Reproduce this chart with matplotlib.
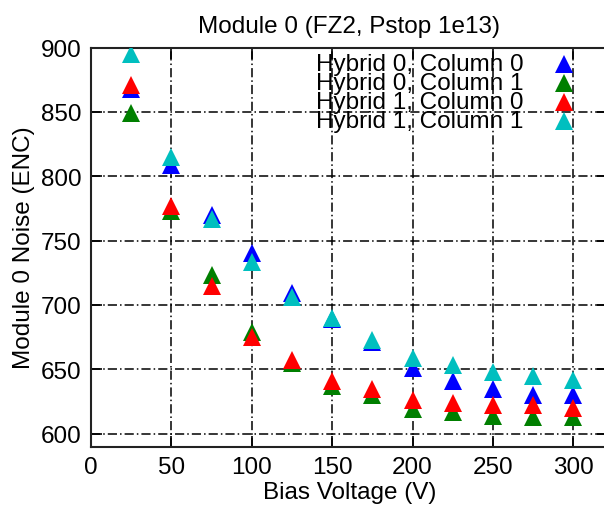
import matplotlib
matplotlib.use("Agg")
import matplotlib.pyplot as plt

plt.rcParams['font.family'] = ['Liberation Sans', 'DejaVu Sans']

# bias voltage points (V)
voltage = [25, 50, 75, 100, 125, 150, 175, 200, 225, 250, 275, 300]

# noise (ENC) per hybrid / column
h0_c0 = [868, 809, 770, 740, 709, 689, 671, 651, 641, 635, 630, 630]
h0_c1 = [849, 773, 723, 679, 655, 637, 630, 619, 617, 614, 613, 613]
h1_c0 = [871, 777, 715, 675, 657, 641, 635, 626, 624, 622, 622, 620]
h1_c1 = [895, 815, 767, 733, 706, 690, 673, 659, 653, 648, 645, 642]

labels = ["Hybrid 0, Column 0", "Hybrid 0, Column 1",
          "Hybrid 1, Column 0", "Hybrid 1, Column 1"]
series = [h0_c0, h0_c1, h1_c0, h1_c1]
colors = ["#0000ff", "#007f00", "#ff0000", "#00bfbf"]

fs = 17.5

fig = plt.figure(figsize=(6.04, 5.10), dpi=100)
W, H = 604, 510
ax = fig.add_axes([91 / W, 1 - 447.5 / H, 517 / W, 399 / H])

for vals, c in zip(series, colors):
    ax.plot(voltage, vals, linestyle='none', marker='^', markersize=13,
            color=c, markeredgewidth=0, zorder=3)

ax.set_xlim(0, 321.5)
ax.set_ylim(590, 900)
ax.set_xticks(range(0, 301, 50))
ax.set_yticks(range(600, 901, 50))

ax.grid(True, color='black', linestyle=(0, (6, 2, 1, 2)), linewidth=1.1)
ax.set_axisbelow(True)
ax.tick_params(direction='in', length=8, width=1.2, top=True, right=True,
               labelsize=fs, pad=7, colors='black')
for s in ax.spines.values():
    s.set_linewidth(1.5)
    s.set_color('#222222')

ax.set_title("Module 0 (FZ2, Pstop 1e13)", fontsize=fs, pad=11)
ax.set_xlabel("Bias Voltage (V)", fontsize=fs, labelpad=2)
ax.set_ylabel("Module 0 Noise (ENC)", fontsize=fs, labelpad=4)

# gnuplot-style key: right-aligned text, marker to the right
key_y = [0.959, 0.911, 0.864, 0.816]
for lab, c, yk in zip(labels, colors, key_y):
    ax.text(0.836, yk, lab, transform=ax.transAxes, ha='right', va='center',
            fontsize=fs, zorder=5)
    ax.plot([0.914], [yk], transform=ax.transAxes, marker='^', markersize=13,
            color=c, markeredgewidth=0, clip_on=False, zorder=5)

fig.savefig("out.png", dpi=100)
